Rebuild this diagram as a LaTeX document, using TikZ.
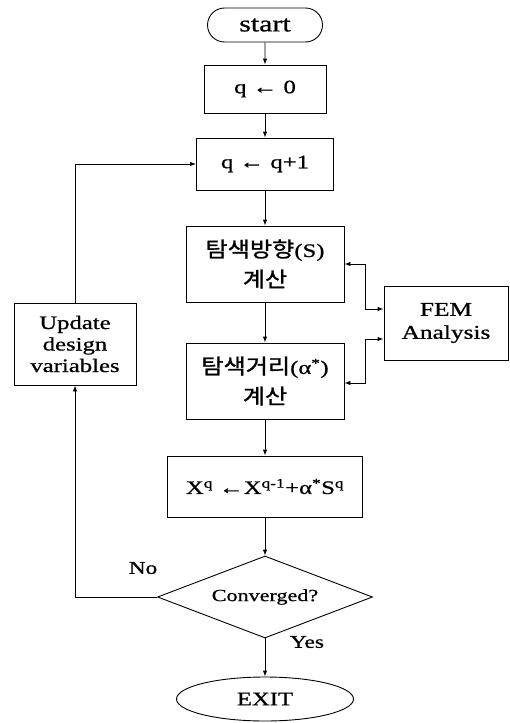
\documentclass[tikz,border=0pt]{standalone}
\usepackage{fontspec}
\setmainfont{Liberation Serif}[FakeStretch=1.3, FakeBold=0.8]
\newfontfamily\kr{Noto Sans CJK KR}[FakeStretch=1.15, FakeBold=1.2]
\usetikzlibrary{shapes.geometric,shapes.misc,arrows.meta}

\begin{document}
\begin{tikzpicture}
[x=1pt, y=1pt, node distance=100pt, font=\fontsize{19}{21.5}\selectfont, line width=0.9pt, >={Latex[length=6pt,width=4.5pt]}]
\tikzstyle{box}=[rectangle, draw, align=center, inner sep=0pt]
\tikzstyle{kbox}=[box, minimum width=158pt, minimum height=76pt, font=\fontsize{19}{30}\selectfont]
\tikzstyle{line}=[draw, ->]
\useasboundingbox (0,0) rectangle (509,-723);
\node[rounded rectangle, draw, inner sep=0pt, minimum width=115pt, minimum height=34pt, font=\fontsize{23}{26}\selectfont]	(start)	at (265,-25)	{start};
\node[box, minimum width=122pt, minimum height=48pt]	(q0)	[node distance=64pt, below of=start]	{q ← 0};
\node[box, minimum width=137pt, minimum height=52pt]	(q1)	[node distance=75pt, below of=q0]	{q ← q+1};
\node[kbox]	(sdir)	[node distance=100pt, below of=q1]	{{\kr\fontsize{21}{30}\selectfont 탐색방향}(S)\\{\kr\fontsize{21}{30}\selectfont 계산}};
\node[kbox]	(sdist)	[node distance=117pt, below of=sdir]	{{\kr\fontsize{21}{30}\selectfont 탐색거리}(α\textsuperscript{*})\\{\kr\fontsize{21}{30}\selectfont 계산}};
\node[box, minimum width=195pt, minimum height=61pt]	(xupd)	[node distance=105.5pt, below of=sdist]	{X\textsuperscript{q} ←X\textsuperscript{q-1}+α\textsuperscript{*}S\textsuperscript{q}};
\node[diamond, draw, aspect=2.6, inner sep=0pt, minimum width=215pt, minimum height=82pt, font=\fontsize{17}{20}\selectfont]	(conv)	[node distance=110.5pt, below of=xupd]	{Converged?};
\node[ellipse, draw, inner sep=0pt, minimum width=177pt, minimum height=44pt]	(exit)	[node distance=102pt, below of=conv]	{EXIT};
\node[box, minimum width=124pt, minimum height=74pt, font=\fontsize{19.5}{23}\selectfont]	(fem)	at (446,-323)	{FEM\\Analysis};
\node[box, minimum width=122pt, minimum height=82pt]	(upd)	at (75,-344)	{Update\\design\\variables};
\node[font=\fontsize{18}{20}\selectfont]	(no)	at (143,-568)	{No};
\node[font=\fontsize{18}{20}\selectfont]	(yes)	at (307,-642)	{Yes};

\draw[line]	(start) -- (q0);
\draw[line]	(q0) -- (q1);
\draw[line]	(q1) -- (sdir);
\draw[line]	(sdir) -- (sdist);
\draw[line]	(sdist) -- (xupd);
\draw[line]	(xupd) -- (conv);
\draw[line]	(conv) -- (exit);
\draw[<->]	(sdir.east) -- ++(21,0) |- ([yshift=14pt]fem.west);
\draw[<->]	([yshift=-2pt]sdist.east) -- ++(21,0) |- ([yshift=-16pt]fem.west);
\draw[line]	(conv.west) -| (upd.south);
\draw[line]	(upd.north) |- (q1.west);
\end{tikzpicture}
\end{document}
